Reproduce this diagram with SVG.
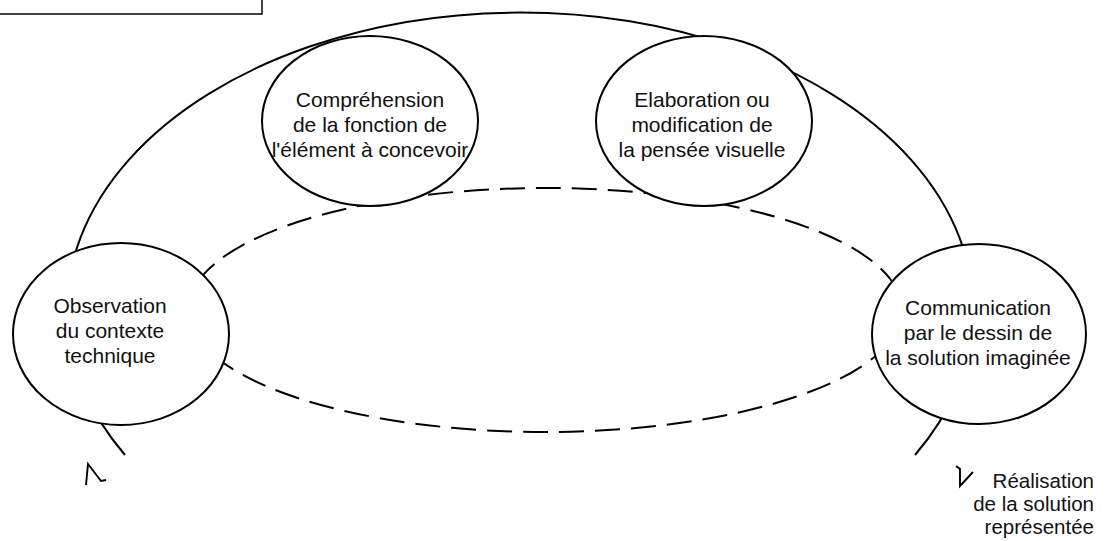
<svg xmlns="http://www.w3.org/2000/svg" width="1107" height="541" viewBox="0 0 1107 541">
<style>
.node{fill:#fff;stroke:#000;stroke-width:2}
.t{font-family:"Liberation Sans",Arial,sans-serif;font-size:21px;fill:#111;text-anchor:middle}
.r{font-family:"Liberation Sans",Arial,sans-serif;font-size:20.5px;fill:#111;text-anchor:end}
.solid{fill:none;stroke:#000;stroke-width:2}
.dash{fill:none;stroke:#000;stroke-width:2;stroke-dasharray:25 11}
.mark{fill:none;stroke:#000;stroke-width:1.9;stroke-linejoin:miter}
</style>
<rect x="-2" y="-2" width="264" height="16" fill="none" stroke="#000" stroke-width="1.5"/>
<g id="connectors">
<path class="solid" d="M 125 455 A 453 297 0 1 1 915 455"/>
<ellipse class="dash" cx="545" cy="310" rx="357" ry="122"/>
<path class="mark" d="M 86 485 L 88 464 L 101 481 L 106 480"/>
<path class="mark" d="M 956 466 L 960 469 L 960 486 L 973 472"/>
</g>
<g id="n1">
<ellipse class="node" cx="121" cy="334" rx="108" ry="91"/>
<text class="t" x="110" y="313">Observation</text>
<text class="t" x="110" y="338">du contexte</text>
<text class="t" x="110" y="363">technique</text>
</g>
<g id="n2">
<ellipse class="node" cx="370" cy="121" rx="108" ry="85"/>
<text class="t" x="370" y="107">Compréhension</text>
<text class="t" x="370" y="132">de la fonction de</text>
<text class="t" x="370" y="157">l'élément à concevoir</text>
</g>
<g id="n3">
<ellipse class="node" cx="704" cy="121" rx="108" ry="85"/>
<text class="t" x="702" y="107">Elaboration ou</text>
<text class="t" x="702" y="132">modification de</text>
<text class="t" x="702" y="157">la pensée visuelle</text>
</g>
<g id="n4">
<ellipse class="node" cx="979" cy="334" rx="107" ry="90"/>
<text class="t" x="978" y="315">Communication</text>
<text class="t" x="978" y="340">par le dessin de</text>
<text class="t" x="978" y="365">la solution imaginée</text>
</g>
<g id="n5">
<text class="r" x="1094" y="488">Réalisation</text>
<text class="r" x="1094" y="511">de la solution</text>
<text class="r" x="1094" y="534">représentée</text>
</g>
</svg>
